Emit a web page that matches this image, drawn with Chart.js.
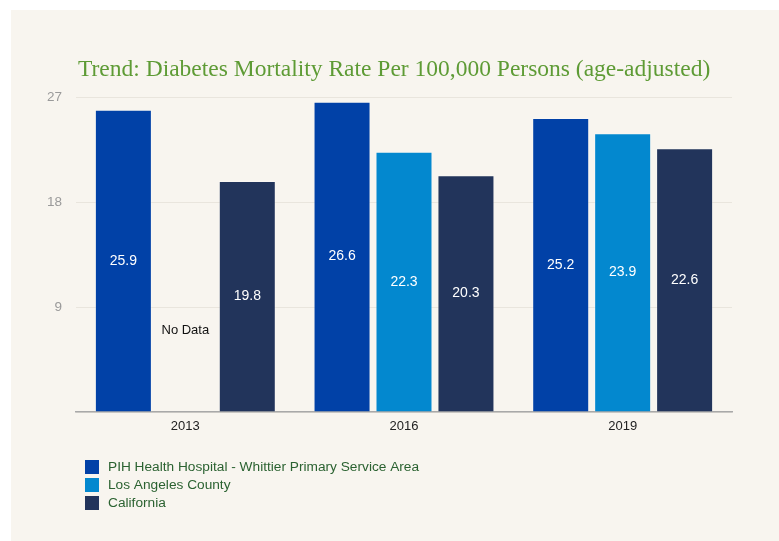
<!DOCTYPE html>
<html>
<head>
<meta charset="utf-8">
<script src="https://cdn.jsdelivr.net/npm/chart.js@4"></script>
<style>
  html, body { margin: 0; padding: 0; background: #ffffff; }
  #wrap { position: relative; width: 779px; height: 541px; }
  canvas { display: block; }
</style>
</head>
<body>
<div id="wrap"><canvas id="c" width="779" height="541"></canvas></div>
<script>
const titleText = 'Trend: Diabetes Mortality Rate Per 100,000 Persons (age-adjusted)';
const categories = ['2013', '2016', '2019'];
const seriesNames = ['PIH Health Hospital - Whittier Primary Service Area', 'Los Angeles County', 'California'];
const pihValues = [25.9, 26.6, 25.2];
const laValues = [null, 22.3, 23.9];
const caValues = [19.8, 20.3, 22.6];
const yTickValues = [9, 18, 27];
const noDataLabel = 'No Data';

const colors = ['#0141a7', '#0388cf', '#22345b'];
const SANS = '"Liberation Sans", Arial, sans-serif';
const SERIF = '"Liberation Serif", "Times New Roman", serif';

const bgPlugin = {
  id: 'bg',
  beforeDraw(chart) {
    const ctx = chart.ctx;
    ctx.save();
    ctx.fillStyle = '#ffffff';
    ctx.fillRect(0, 0, chart.width, chart.height);
    ctx.fillStyle = '#f8f5ef';
    ctx.fillRect(11, 10, chart.width - 11, chart.height - 10);
    ctx.restore();
  }
};

const titlePlugin = {
  id: 'customTitle',
  afterDraw(chart) {
    const ctx = chart.ctx;
    ctx.save();
    ctx.font = '23.5px ' + SERIF;
    ctx.fillStyle = '#5e9b35';
    ctx.textAlign = 'left';
    ctx.textBaseline = 'alphabetic';
    ctx.fillText(titleText, chart.chartArea.left + 2, 76);
    ctx.restore();
  }
};

const valueLabelPlugin = {
  id: 'valueLabels',
  afterDatasetsDraw(chart) {
    const ctx = chart.ctx;
    const y = chart.scales.y;
    const x = chart.scales.x;
    ctx.save();
    ctx.textAlign = 'center';
    ctx.textBaseline = 'middle';
    chart.data.datasets.forEach((ds, di) => {
      const meta = chart.getDatasetMeta(di);
      meta.data.forEach((el, i) => {
        const v = ds.data[i];
        if (v === null || v === undefined) {
          let px = el && isFinite(el.x) ? el.x : x.getPixelForValue(i);
          ctx.font = '13px ' + SANS;
          ctx.fillStyle = '#111111';
          ctx.fillText(noDataLabel, px, y.getPixelForValue(7));
        } else {
          ctx.font = '14px ' + SANS;
          ctx.fillStyle = '#ffffff';
          ctx.fillText(v.toFixed(1), el.x, (el.y + el.base) / 2);
        }
      });
    });
    ctx.restore();
  }
};

const legendPlugin = {
  id: 'customLegend',
  afterDraw(chart) {
    const ctx = chart.ctx;
    const left = chart.chartArea.left + 9;
    const top0 = chart.chartArea.bottom + 48;
    ctx.save();
    ctx.font = '13.7px ' + SANS;
    ctx.textAlign = 'left';
    ctx.textBaseline = 'middle';
    chart.data.datasets.forEach((ds, i) => {
      const top = top0 + i * 18;
      ctx.fillStyle = ds.backgroundColor;
      ctx.fillRect(left, top, 14, 14);
      ctx.fillStyle = '#2b6231';
      ctx.fillText(ds.label, left + 23, top + 7.5);
    });
    ctx.restore();
  }
};

const seriesValues = [pihValues, laValues, caValues];
new Chart(document.getElementById('c'), {
  type: 'bar',
  data: {
    labels: categories,
    datasets: seriesNames.map((name, i) => ({
      label: name,
      data: seriesValues[i],
      backgroundColor: colors[i],
      borderColor: 'rgba(255,255,255,0.25)',
      borderWidth: 1,
      categoryPercentage: 0.85,
      barPercentage: 0.92
    }))
  },
  options: {
    responsive: false,
    animation: false,
    devicePixelRatio: 1,
    layout: { padding: { top: 97, right: 47, bottom: 0, left: 0 } },
    plugins: {
      legend: { display: false },
      title: { display: false },
      tooltip: { enabled: false }
    },
    scales: {
      x: {
        grid: { display: false, drawTicks: false },
        border: { display: true, color: '#a9a9a9', width: 1.5 },
        ticks: { color: '#222222', font: { family: SANS, size: 13 }, padding: 7 },
        afterFit(s) { s.height = 129; }
      },
      y: {
        min: 0,
        max: 27,
        grid: { color: '#e9e5dd', lineWidth: 1, drawTicks: false },
        border: { display: false },
        afterBuildTicks(s) { s.ticks = [0].concat(yTickValues).map(v => ({ value: v })); },
        ticks: {
          color: '#9a9a9a',
          font: { family: SANS, size: 13.5 },
          padding: 14,
          callback: v => (v === 0 ? '' : String(v))
        },
        afterFit(s) { s.width = 76; }
      }
    }
  },
  plugins: [bgPlugin, titlePlugin, valueLabelPlugin, legendPlugin]
});
</script>
</body>
</html>
